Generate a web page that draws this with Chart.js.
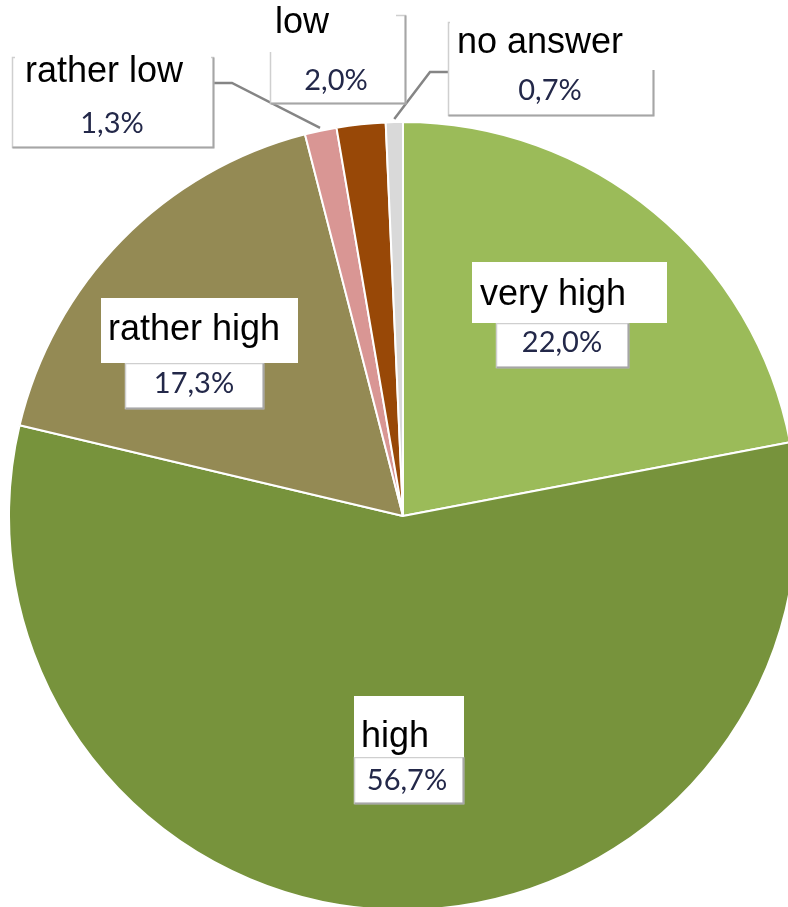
<!DOCTYPE html>
<html>
<head>
<meta charset="utf-8">
<title>Assessment</title>
<script src="https://cdn.jsdelivr.net/npm/chart.js@4.4.1/dist/chart.umd.min.js"></script>
<style>
  html, body { margin: 0; padding: 0; background: #fff; overflow: hidden; }
  #pie { display: block; }
</style>
</head>
<body>
<canvas id="pie" width="800" height="920" style="width:800px;height:920px"></canvas>
<script>
// answers, clockwise from 12 o'clock
const categories = ['very high', 'high', 'rather high', 'rather low', 'low', 'no answer'];
const shares = [22.0, 56.7, 17.3, 1.3, 2.0, 0.7];
const sliceColors = ['#9BBB59', '#77933C', '#948A54', '#D99694', '#984807', '#D9D9D9'];

// label boxes: name box (white), value box (framed), text anchors, optional leader
const labelLayout = [
  { name: { x: 472, y: 262, w: 195, h: 61 }, nameAt: [480, 305],
    box: { x: 496, y: 323, w: 132, h: 44 }, valueAt: [562, 352] },
  { name: { x: 354, y: 696, w: 110, h: 61 }, nameAt: [361, 747],
    box: { x: 354, y: 757, w: 109, h: 46 }, valueAt: [407, 790] },
  { name: { x: 101, y: 298, w: 197, h: 65 }, nameAt: [108, 340],
    box: { x: 125, y: 363, w: 138, h: 45 }, valueAt: [194, 393] },
  { name: { x: 15, y: 44, w: 196, h: 48 }, nameAt: [25, 82],
    box: { x: 12, y: 57, w: 201, h: 90 }, valueAt: [112, 133],
    leader: [[214, 83], [232, 83]] },
  { name: { x: 262, y: 0, w: 134, h: 52 }, nameAt: [275, 33],
    box: { x: 270, y: 15, w: 135, h: 88 }, valueAt: [336, 90] },
  { name: { x: 450, y: 12, w: 210, h: 58 }, nameAt: [457, 53],
    box: { x: 448, y: 22, w: 205, h: 93 }, valueAt: [550, 100],
    leader: [[448, 72], [430, 72]] }
];

function fmtShare(v) {
  return v.toFixed(1).replace('.', ',') + '%';
}

const pieLabels = {
  id: 'pieLabels',
  afterDatasetsDraw(chart) {
    const ctx = chart.ctx;
    const arcs = chart.getDatasetMeta(0).data;
    ctx.save();

    // leader lines first, boxes sit on top of them
    labelLayout.forEach((lay, i) => {
      if (!lay.leader) return;
      const arc = arcs[i];
      const mid = (arc.startAngle + arc.endAngle) / 2;
      const r = arc.outerRadius + 3;
      ctx.beginPath();
      ctx.moveTo(lay.leader[0][0], lay.leader[0][1]);
      for (let k = 1; k < lay.leader.length; k++) ctx.lineTo(lay.leader[k][0], lay.leader[k][1]);
      ctx.lineTo(arc.x + r * Math.cos(mid), arc.y + r * Math.sin(mid));
      ctx.strokeStyle = '#858585';
      ctx.lineWidth = 2.5;
      ctx.stroke();
    });

    labelLayout.forEach((lay, i) => {
      const b = lay.box;
      ctx.fillStyle = '#fff';
      ctx.fillRect(b.x, b.y, b.w, b.h);
      ctx.strokeStyle = '#cfcfcf';
      ctx.lineWidth = 1.5;
      ctx.strokeRect(b.x + 0.5, b.y + 0.5, b.w, b.h);
      // slight shadow on the right and bottom edges
      ctx.beginPath();
      ctx.moveTo(b.x + b.w + 0.5, b.y + 0.5);
      ctx.lineTo(b.x + b.w + 0.5, b.y + b.h + 0.5);
      ctx.lineTo(b.x + 0.5, b.y + b.h + 0.5);
      ctx.strokeStyle = '#a6a6a6';
      ctx.lineWidth = 2;
      ctx.stroke();

      const n = lay.name;
      ctx.fillStyle = '#fff';
      ctx.fillRect(n.x, n.y, n.w, n.h);

      ctx.fillStyle = '#000';
      ctx.font = '36px "Liberation Sans", Arial, sans-serif';
      ctx.textAlign = 'left';
      ctx.textBaseline = 'alphabetic';
      ctx.fillText(categories[i], lay.nameAt[0], lay.nameAt[1]);

      ctx.fillStyle = '#232849';
      ctx.font = '29px Lato, "Open Sans", sans-serif';
      ctx.textAlign = 'center';
      ctx.fillText(fmtShare(shares[i]), lay.valueAt[0], lay.valueAt[1]);
    });
    ctx.restore();
  }
};

new Chart(document.getElementById('pie').getContext('2d'), {
  type: 'pie',
  data: {
    labels: categories,
    datasets: [{
      data: shares,
      backgroundColor: sliceColors,
      borderColor: '#ffffff',
      borderWidth: 2,
      hoverOffset: 0
    }]
  },
  options: {
    responsive: false,
    animation: false,
    events: [],
    layout: { padding: { left: 8, right: 2, top: 121, bottom: 9 } },
    plugins: {
      legend: { display: false },
      tooltip: { enabled: false }
    }
  },
  plugins: [pieLabels]
});
</script>
</body>
</html>
